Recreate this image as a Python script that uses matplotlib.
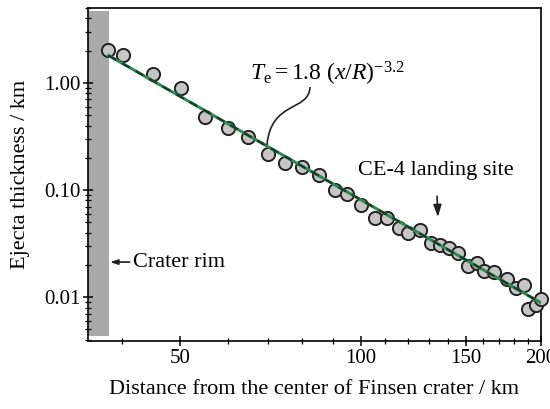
import matplotlib
matplotlib.use('Agg')
import matplotlib.pyplot as plt
import numpy as np
from matplotlib.ticker import FixedLocator, FixedFormatter, NullFormatter, LogLocator
from matplotlib.path import Path
from matplotlib.patches import PathPatch

plt.rcParams['font.family'] = 'Liberation Serif'
plt.rcParams['mathtext.fontset'] = 'custom'
plt.rcParams['mathtext.rm'] = 'Liberation Serif'
plt.rcParams['mathtext.it'] = 'Liberation Serif:italic'

# measured ejecta thickness (km) vs distance from Finsen crater centre (km)
dist = [37.9, 40.2, 45.1, 50.2, 55.0, 60.2, 65.0, 70.2, 74.9, 80.0, 85.4, 90.5,
        95.1, 100.0, 105.9, 110.9, 115.8, 119.9, 125.5, 130.9, 135.5, 140.3,
        145.3, 151.0, 156.3, 160.6, 166.9, 175.5, 181.6, 187.4, 190.2, 196.2, 200.0]
thick = [2.03, 1.83, 1.21, 0.90, 0.48, 0.38, 0.31, 0.217, 0.179, 0.164, 0.138, 0.100,
         0.092, 0.072, 0.055, 0.055, 0.044, 0.040, 0.042, 0.032, 0.031, 0.029,
         0.026, 0.0195, 0.021, 0.0175, 0.0172, 0.0149, 0.0123, 0.0131, 0.0078, 0.0085, 0.0097]

# fit Te = 1.8 (x/R)^-3.2
R = 38.0
fit_x = np.linspace(R, 200, 200)
fit_y = 1.8*(fit_x/R)**-3.2

fig = plt.figure(figsize=(5.5, 4.09), dpi=100)
ax = fig.add_axes([0.16, 0.1663, 0.8236, 0.8141])
ax.set_xscale('log')
ax.set_yscale('log')
ax.set_xlim(35.1, 200)
ax.set_ylim(0.0039, 5.0)

ax.axvspan(35.1, R, ymin=0.015, ymax=0.99, color='#a9a9a9', lw=0, zorder=1)

ax.plot(dist, thick, 'o', ms=9.5, mfc='#c6c4c4', mec='#222222', mew=1.4,
        zorder=3, clip_on=False)
ax.plot(fit_x, fit_y, color='#2e8b57', lw=2.2, zorder=4)
ax.plot(fit_x, fit_y, color='#1a3a2a', lw=1.6, ls=(0, (4, 3)), zorder=5)

ax.xaxis.set_major_locator(FixedLocator([50, 100, 150, 200]))
ax.xaxis.set_major_formatter(FixedFormatter(['50', '100', '150', '200']))
ax.xaxis.set_minor_locator(FixedLocator([40, 60, 70, 80, 90, 110, 120, 130, 140,
                                         160, 170, 180, 190]))
ax.xaxis.set_minor_formatter(NullFormatter())
ax.yaxis.set_major_locator(FixedLocator([0.01, 0.1, 1.0]))
ax.yaxis.set_major_formatter(FixedFormatter(['0.01', '0.10', '1.00']))
ax.yaxis.set_minor_locator(LogLocator(base=10, subs=np.arange(2, 10)))
ax.yaxis.set_minor_formatter(NullFormatter())
ax.tick_params(which='major', direction='inout', length=7, width=1.1, labelsize=15, pad=2)
ax.tick_params(which='minor', direction='inout', length=4, width=0.9)
for s in ax.spines.values():
    s.set_linewidth(1.2)

ax.set_xlabel('Distance from the center of Finsen crater / km', fontsize=16)
ax.set_ylabel('Ejecta thickness / km', fontsize=16)
ax.xaxis.set_label_coords(0.5, -0.117)
ax.yaxis.set_label_coords(-0.128, 0.5)

# equation label and its curved leader
ax.text(0.358, 0.781, r'$T_{\rm e} = 1.8\ (x/R)^{-3.2}$', transform=ax.transAxes,
        fontsize=17, ha='left', va='baseline')
leader = Path([(0.4901, 0.7628), (0.4879, 0.6877), (0.4040, 0.7237), (0.3951, 0.5886)],
              [Path.MOVETO, Path.CURVE4, Path.CURVE4, Path.CURVE4])
ax.add_patch(PathPatch(leader, transform=ax.transAxes, fc='none', ec='#222222',
                       lw=1.2, zorder=6))

ax.annotate('CE-4 landing site', xy=(0.7726, 0.372), xytext=(0.768, 0.5135),
            xycoords='axes fraction', textcoords='axes fraction',
            fontsize=16, ha='center', va='center',
            arrowprops=dict(arrowstyle='-|>,head_length=0.45,head_width=0.15',
                            color='#222222', lw=1.2, shrinkA=10, shrinkB=0))
ax.annotate('', xy=(0.0486, 0.237), xytext=(0.092, 0.237),
            xycoords='axes fraction', textcoords='axes fraction',
            arrowprops=dict(arrowstyle='-|>,head_length=0.45,head_width=0.15',
                            color='#222222', lw=1.2, shrinkA=0, shrinkB=0))
ax.text(0.0993, 0.237, 'Crater rim', transform=ax.transAxes, fontsize=16,
        ha='left', va='center')

fig.savefig('out.png', dpi=100, facecolor='w')
